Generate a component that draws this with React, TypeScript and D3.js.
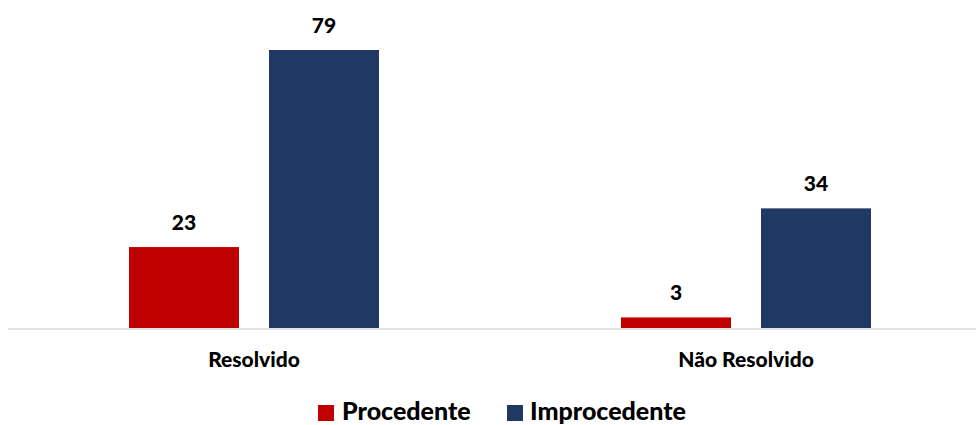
import { useEffect, useRef } from 'react';
import * as d3 from 'd3';

const categories = ['Resolvido', 'Não Resolvido'];
const seriesNames = ['Procedente', 'Improcedente'];
const procedente = [23, 3];
const improcedente = [79, 34];
const colors = ['#C00000', '#203864'];

const WIDTH = 976;
const HEIGHT = 425;
const FONT = 'Lato, "Open Sans", sans-serif';

export default function App() {
  const svgRef = useRef<SVGSVGElement>(null);

  useEffect(() => {
    if (!svgRef.current) return;
    const svg = d3.select(svgRef.current);
    svg.selectAll('*').remove();

    const data = categories.map((c, i) => ({
      category: c,
      values: [procedente[i], improcedente[i]],
    }));

    // outer band per category, inner band per series
    const x0 = d3.scaleBand<string>().domain(categories).range([8, 992]).padding(0);
    const x1 = d3.scaleBand<string>()
      .domain(seriesNames)
      .range([121, 371])
      .paddingInner(0.2143)
      .paddingOuter(0);
    const y = d3.scaleLinear().domain([0, 90]).range([328, 11.3]);

    // baseline
    svg.append('line')
      .attr('x1', 8).attr('x2', WIDTH)
      .attr('y1', y(0) + 1).attr('y2', y(0) + 1)
      .attr('stroke', '#d9d9d9')
      .attr('stroke-width', 1.5);

    const groups = svg.selectAll('.grp')
      .data(data)
      .enter().append('g')
      .attr('class', 'grp')
      .attr('transform', (d) => `translate(${x0(d.category)},0)`);

    groups.selectAll('rect')
      .data((d) => d.values.map((v, i) => ({ key: seriesNames[i], v, i })))
      .enter().append('rect')
      .attr('x', (d) => x1(d.key) ?? 0)
      .attr('y', (d) => y(d.v))
      .attr('width', x1.bandwidth())
      .attr('height', (d) => y(0) - y(d.v))
      .attr('fill', (d) => colors[d.i]);

    groups.selectAll('.val')
      .data((d) => d.values.map((v, i) => ({ key: seriesNames[i], v })))
      .enter().append('text')
      .attr('class', 'val')
      .attr('x', (d) => (x1(d.key) ?? 0) + x1.bandwidth() / 2)
      .attr('y', (d) => y(d.v) - 17)
      .attr('text-anchor', 'middle')
      .attr('font-family', FONT)
      .attr('font-weight', 900)
      .attr('font-size', 21)
      .attr('fill', '#000')
      .text((d) => d.v);

    // category labels
    svg.selectAll('.cat')
      .data(categories)
      .enter().append('text')
      .attr('class', 'cat')
      .attr('x', (d) => (x0(d) ?? 0) + x0.bandwidth() / 2)
      .attr('y', 367)
      .attr('text-anchor', 'middle')
      .attr('font-family', FONT)
      .attr('font-weight', 900)
      .attr('font-size', 21)
      .attr('fill', '#000')
      .text((d) => d);

    // legend
    const legendItems = [
      { name: seriesNames[0], sx: 318, tx: 342 },
      { name: seriesNames[1], sx: 507, tx: 530 },
    ];
    const lg = svg.append('g');
    legendItems.forEach((it, i) => {
      lg.append('rect')
        .attr('x', it.sx).attr('y', 405)
        .attr('width', 16).attr('height', 16)
        .attr('fill', colors[i]);
      lg.append('text')
        .attr('x', it.tx).attr('y', 420)
        .attr('font-family', FONT)
        .attr('font-weight', 900)
        .attr('font-size', 25)
        .attr('fill', '#000')
        .text(it.name);
    });
  }, []);

  return (
    <svg
      ref={svgRef}
      width={WIDTH}
      height={HEIGHT}
      style={{ position: 'absolute', left: 0, top: 0, display: 'block', background: '#fff' }}
    />
  );
}
